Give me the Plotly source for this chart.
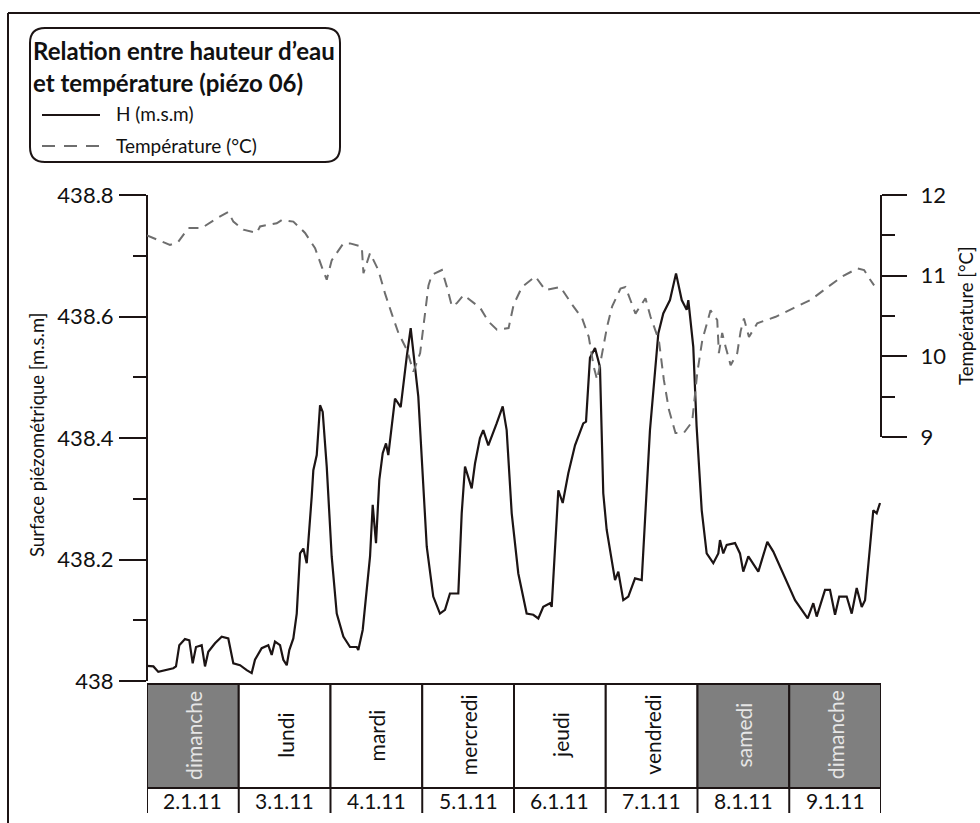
import plotly.graph_objects as go

# ---------------- data ----------------
# time in days since 2.1.11 00:00, water level H (m.s.m)
h_day = [0.00, 0.07, 0.123, 0.287, 0.316, 0.352, 0.414, 0.461, 0.498, 0.534, 0.596, 0.632, 0.668, 0.741,
         0.814, 0.886, 0.941, 1.014, 1.087, 1.141, 1.177, 1.250, 1.322, 1.359, 1.395, 1.450, 1.486, 1.523,
         1.551, 1.595, 1.632, 1.668, 1.704, 1.741, 1.795, 1.813, 1.850, 1.886, 1.915, 1.959, 2.013, 2.068,
         2.140, 2.213, 2.286, 2.303, 2.351, 2.387, 2.431, 2.460, 2.496, 2.532, 2.569, 2.605, 2.630, 2.703,
         2.765, 2.831, 2.874, 2.957, 3.011, 3.049, 3.120, 3.193, 3.248, 3.302, 3.393, 3.430, 3.466, 3.539,
         3.575, 3.629, 3.665, 3.720, 3.811, 3.877, 3.920, 3.975, 4.047, 4.138, 4.210, 4.265, 4.319, 4.392,
         4.411, 4.483, 4.531, 4.592, 4.665, 4.755, 4.785, 4.828, 4.883, 4.937, 4.973, 5.010, 5.101, 5.137,
         5.191, 5.246, 5.319, 5.392, 5.428, 5.482, 5.573, 5.627, 5.700, 5.766, 5.828, 5.882, 5.900, 5.954,
         5.990, 6.046, 6.100, 6.172, 6.227, 6.245, 6.281, 6.318, 6.409, 6.463, 6.499, 6.554, 6.663, 6.761,
         6.826, 6.899, 6.972, 7.063, 7.201, 7.262, 7.299, 7.390, 7.444, 7.499, 7.545, 7.626, 7.681, 7.735,
         7.790, 7.826, 7.880, 7.916, 7.953, 7.989]
h_val = [438.025, 438.024, 438.015, 438.021, 438.024, 438.059, 438.069, 438.067, 438.029, 438.056, 438.059,
         438.024, 438.048, 438.062, 438.073, 438.070, 438.029, 438.026, 438.018, 438.013, 438.035, 438.054,
         438.059, 438.043, 438.065, 438.059, 438.035, 438.026, 438.051, 438.070, 438.111, 438.210, 438.218,
         438.194, 438.303, 438.347, 438.372, 438.454, 438.443, 438.353, 438.205, 438.111, 438.073, 438.056,
         438.056, 438.051, 438.084, 438.144, 438.205, 438.290, 438.227, 438.331, 438.375, 438.391, 438.372,
         438.465, 438.451, 438.534, 438.581, 438.468, 438.309, 438.221, 438.139, 438.111, 438.117, 438.144,
         438.144, 438.276, 438.353, 438.317, 438.358, 438.400, 438.413, 438.388, 438.424, 438.452, 438.413,
         438.276, 438.177, 438.111, 438.109, 438.103, 438.122, 438.128, 438.122, 438.314, 438.293, 438.342,
         438.388, 438.424, 438.427, 438.532, 438.548, 438.517, 438.309, 438.249, 438.166, 438.180, 438.133,
         438.139, 438.169, 438.166, 438.265, 438.413, 438.572, 438.605, 438.627, 438.671, 438.627, 438.611,
         438.627, 438.550, 438.420, 438.281, 438.210, 438.194, 438.210, 438.232, 438.210, 438.224, 438.227,
         438.210, 438.180, 438.205, 438.180, 438.229, 438.213, 438.188, 438.166, 438.133, 438.103, 438.128,
         438.106, 438.150, 438.150, 438.109, 438.139, 438.139, 438.111, 438.153, 438.122, 438.133, 438.221,
         438.281, 438.276, 438.293]

# time in days, temperature (°C)
t_day = [0.00, 0.250, 0.341, 0.450, 0.596, 0.760, 0.886, 0.941, 1.050, 1.196, 1.232, 1.414, 1.469, 1.595,
         1.723, 1.832, 1.905, 1.959, 2.013, 2.140, 2.213, 2.341, 2.359, 2.431, 2.521, 2.594, 2.667, 2.740,
         2.832, 2.904, 2.977, 3.032, 3.068, 3.105, 3.214, 3.269, 3.323, 3.378, 3.450, 3.632, 3.723, 3.814,
         3.941, 3.996, 4.087, 4.233, 4.342, 4.506, 4.634, 4.743, 4.815, 4.869, 4.906, 4.961, 5.015, 5.070,
         5.161, 5.215, 5.270, 5.324, 5.433, 5.488, 5.579, 5.633, 5.688, 5.760, 5.851, 5.942, 5.997, 6.052,
         6.142, 6.215, 6.233, 6.269, 6.306, 6.361, 6.433, 6.470, 6.506, 6.561, 6.651, 6.852, 7.052, 7.234,
         7.398, 7.579, 7.743, 7.816, 7.870, 7.925]
t_val = [11.50, 11.38, 11.42, 11.59, 11.59, 11.71, 11.79, 11.67, 11.57, 11.53, 11.61, 11.65, 11.69, 11.67,
         11.53, 11.34, 11.11, 10.95, 11.19, 11.40, 11.40, 11.36, 11.03, 11.28, 11.07, 10.78, 10.53, 10.29,
         10.08, 9.81, 10.04, 10.53, 10.88, 11.01, 11.07, 10.86, 10.62, 10.66, 10.76, 10.60, 10.43, 10.33,
         10.35, 10.64, 10.86, 10.99, 10.82, 10.86, 10.64, 10.47, 10.24, 9.87, 9.71, 10.04, 10.37, 10.62,
         10.84, 10.86, 10.68, 10.53, 10.72, 10.49, 10.20, 9.71, 9.34, 9.05, 9.05, 9.19, 9.79, 10.20,
         10.57, 10.45, 10.04, 10.29, 10.12, 9.89, 10.04, 10.31, 10.47, 10.24, 10.41, 10.49, 10.60, 10.70,
         10.84, 10.99, 11.09, 11.07, 10.97, 10.88]

day_names = ["dimanche", "lundi", "mardi", "mercredi", "jeudi", "vendredi", "samedi", "dimanche"]
day_dates = ["2.1.11", "3.1.11", "4.1.11", "5.1.11", "6.1.11", "7.1.11", "8.1.11", "9.1.11"]
h_ticks = [438.0, 438.2, 438.4, 438.6, 438.8]
h_ticktext = ["438", "438.2", "438.4", "438.6", "438.8"]
t_ticks = [9, 10, 11, 12]

# ---------------- layout helpers (pixel -> paper) ----------------
W, H = 980, 823
def px(x):
    return x / W
def py(y):
    return 1 - y / H

FONT = "Lato"
INK = "#1c1414"
TXT = "#111111"

fig = go.Figure()
fig.add_trace(go.Scatter(x=h_day, y=h_val, mode="lines", xaxis="x", yaxis="y",
                         line=dict(color=INK, width=2.2), showlegend=False, hoverinfo="skip"))
fig.add_trace(go.Scatter(x=t_day, y=t_val, mode="lines", xaxis="x", yaxis="y2",
                         line=dict(color="#6e6e6e", width=2, dash="10px,7px"),
                         showlegend=False, hoverinfo="skip"))

shapes = []
annotations = []

# outer frame (top and left)
shapes.append(dict(type="line", xref="paper", yref="paper", x0=px(8), x1=1, y0=py(13), y1=py(13),
                   line=dict(color=INK, width=2)))
shapes.append(dict(type="line", xref="paper", yref="paper", x0=px(8), x1=px(8), y0=py(13), y1=0,
                   line=dict(color=INK, width=2)))

# day table
for i, (name, date) in enumerate(zip(day_names, day_dates)):
    weekend = name in ("samedi", "dimanche")
    shapes.append(dict(type="rect", xref="x", yref="paper", x0=i, x1=i + 1, y0=py(788), y1=py(684),
                       fillcolor="#7f7f7f" if weekend else "white", line=dict(color=INK, width=2),
                       layer="above"))
    annotations.append(dict(xref="x", yref="paper", x=i + 0.5, y=py(735), text=name, showarrow=False,
                            textangle=-90, font=dict(family=FONT, size=21,
                                                     color="#e6e6e6" if weekend else TXT),
                            xanchor="center", yanchor="middle"))
    annotations.append(dict(xref="x", yref="paper", x=i + 0.5, y=py(800), text=date, showarrow=False,
                            font=dict(family=FONT, size=21, color=TXT),
                            xanchor="center", yanchor="middle"))
for i in range(len(day_names) + 1):
    shapes.append(dict(type="line", xref="x", yref="paper", x0=i, x1=i, y0=py(788), y1=py(813),
                       line=dict(color=INK, width=2)))

# legend box
r = 15
x0, x1, y0, y1 = 30, 340, 28, 162
path = (f"M {px(x0 + r)},{py(y0)} L {px(x1 - r)},{py(y0)} Q {px(x1)},{py(y0)} {px(x1)},{py(y0 + r)} "
        f"L {px(x1)},{py(y1 - r)} Q {px(x1)},{py(y1)} {px(x1 - r)},{py(y1)} "
        f"L {px(x0 + r)},{py(y1)} Q {px(x0)},{py(y1)} {px(x0)},{py(y1 - r)} "
        f"L {px(x0)},{py(y0 + r)} Q {px(x0)},{py(y0)} {px(x0 + r)},{py(y0)} Z")
shapes.append(dict(type="path", xref="paper", yref="paper", path=path,
                   line=dict(color=INK, width=2), fillcolor="rgba(0,0,0,0)"))
shapes.append(dict(type="line", xref="paper", yref="paper", x0=px(42), x1=px(100), y0=py(115), y1=py(115),
                   line=dict(color=INK, width=2)))
shapes.append(dict(type="line", xref="paper", yref="paper", x0=px(42), x1=px(100), y0=py(146), y1=py(146),
                   line=dict(color="#6e6e6e", width=2, dash="13px,9px")))
annotations.append(dict(xref="paper", yref="paper", x=px(31), y=py(51), text="<b>Relation entre hauteur d’eau</b>",
                        showarrow=False, xanchor="left", yanchor="middle",
                        font=dict(family=FONT, size=24, color=TXT)))
annotations.append(dict(xref="paper", yref="paper", x=px(31), y=py(83), text="<b>et température (piézo 06)</b>",
                        showarrow=False, xanchor="left", yanchor="middle",
                        font=dict(family=FONT, size=24, color=TXT)))
annotations.append(dict(xref="paper", yref="paper", x=px(114), y=py(113), text="H (m.s.m)",
                        showarrow=False, xanchor="left", yanchor="middle",
                        font=dict(family=FONT, size=19, color=TXT)))
annotations.append(dict(xref="paper", yref="paper", x=px(114), y=py(145), text="Température (°C)",
                        showarrow=False, xanchor="left", yanchor="middle",
                        font=dict(family=FONT, size=19, color=TXT)))

# axis titles
annotations.append(dict(xref="paper", yref="paper", x=px(37), y=py(435), text="Surface piézométrique [m.s.m]",
                        showarrow=False, textangle=-90, xanchor="center", yanchor="middle",
                        font=dict(family=FONT, size=18.5, color=TXT)))
annotations.append(dict(xref="paper", yref="paper", x=px(966), y=py(316), text="Température [°C]",
                        showarrow=False, textangle=-90, xanchor="center", yanchor="middle",
                        font=dict(family=FONT, size=18.5, color=TXT)))

fig.update_layout(
    width=W, height=H, margin=dict(l=0, r=0, t=0, b=0, autoexpand=False),
    paper_bgcolor="white", plot_bgcolor="rgba(0,0,0,0)",
    showlegend=False,
    xaxis=dict(domain=[px(147), px(881)], range=[0, 8], visible=False, fixedrange=True, automargin=False),
    yaxis=dict(domain=[py(681), py(195)], range=[438.0, 438.8], anchor="free", position=px(147),
               automargin=False,
               showline=True, linecolor=INK, linewidth=2, showgrid=False, zeroline=False,
               ticks="outside", ticklen=27, tickwidth=2, tickcolor=INK,
               tickvals=h_ticks, ticktext=h_ticktext, ticklabelstandoff=1,
               tickfont=dict(family=FONT, size=22, color=TXT),
               minor=dict(tickvals=[438.1, 438.3, 438.5, 438.7], ticks="outside", ticklen=13,
                          tickwidth=2, tickcolor=INK, showgrid=False)),
    yaxis2=dict(domain=[py(437), py(195)], range=[9, 12], anchor="free", position=px(881), side="right",
                automargin=False,
                showline=True, linecolor=INK, linewidth=2, showgrid=False, zeroline=False,
                ticks="outside", ticklen=25, tickwidth=2, tickcolor=INK,
                tickvals=t_ticks, ticklabelstandoff=9,
                tickfont=dict(family=FONT, size=22, color=TXT),
                minor=dict(tickvals=[9.5, 10.5, 11.5], ticks="outside", ticklen=13,
                           tickwidth=2, tickcolor=INK, showgrid=False)),
    shapes=shapes, annotations=annotations,
)

fig.write_html("out.html")
